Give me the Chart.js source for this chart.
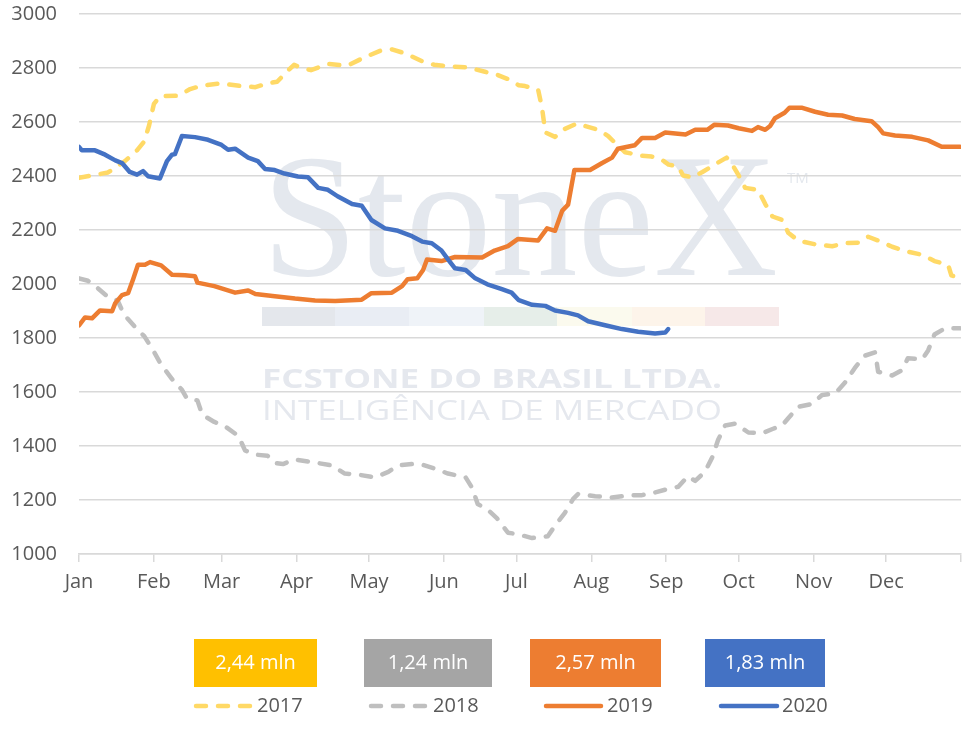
<!DOCTYPE html>
<html>
<head>
<meta charset="utf-8">
<script src="https://cdn.jsdelivr.net/npm/chart.js@4.4.1/dist/chart.umd.min.js"></script>
<style>
html,body{margin:0;padding:0;background:#ffffff;}
#wrap{width:975px;height:744px;position:relative;}
</style>
</head>
<body>
<div id="wrap"><canvas id="c" width="975" height="744"></canvas></div>
<script>
// ---------- DATA ----------
const monthLabels = ['Jan','Feb','Mar','Apr','May','Jun','Jul','Aug','Sep','Oct','Nov','Dec'];
const monthStartDays = [0,31,59,90,120,151,181,212,243,273,304,334,365];
const yMin = 1000, yMax = 3000, yStep = 200;
const seriesNames = ['2017','2018','2019','2020'];
const totalLabels = ['2,44 mln','1,24 mln','2,57 mln','1,83 mln'];

const days2017 = [0,12,19,24,27,29,31,33.5,41,46,51,59,67,73,78,82,86,89,90.5,96,103,111,118,125,129.5,135,142,147,153,161,168,173,177.5,182,184.6,190,191.6,193,197,201,206,211,215,219,222,226,233,237,241,244,248,250,254,258,263,268,270,273,275.7,281,284,287,291,293.5,297.6,304.6,311.7,317,322.4,326.6,330.7,336.5,342,349,354,359.7,361,364.6];
const values2017 = [2393,2413,2455,2495,2528,2587,2667,2696,2697,2722,2735,2743,2733,2729,2743,2749,2786,2812,2806,2792,2815,2808,2839,2865,2869,2854,2825,2812,2806,2802,2786,2775,2759,2736,2733,2720,2653,2561,2545,2574,2594,2581,2571,2548,2521,2488,2475,2472,2462,2442,2435,2402,2395,2415,2442,2468,2448,2402,2356,2349,2296,2250,2237,2190,2161,2147,2140,2151,2153,2175,2161,2138,2122,2108,2085,2071,2032,2021];

const days2018 = [0,3.7,7.7,12,16,18,20,24,27,30.7,34,38.5,42.6,44.7,49,51,56,60,66,68.7,73,78,81,84.4,89,96,104.7,110,115.5,122.5,128,132,137.8,142,147,152.7,160,162.7,165,169,173,177.5,181.7,187.5,194,197,201,204.5,206.5,213.6,220.6,227,233,238,242.5,248,252,255,259,262,264.5,267.4,271.5,277,282.7,287,291,293.5,297.6,303.4,307.5,313,317,321,325,329.5,330.7,336.5,340.6,343,349,351.4,354,358.4,364.6];
const values2018 = [2021,2012,1985,1952,1939,1899,1873,1833,1807,1754,1701,1648,1608,1575,1569,1516,1489,1476,1437,1384,1368,1364,1337,1333,1350,1341,1328,1298,1294,1284,1304,1328,1333,1331,1317,1298,1284,1245,1185,1165,1132,1079,1073,1059,1066,1105,1151,1204,1222,1214,1209,1217,1218,1227,1238,1249,1288,1271,1304,1357,1423,1476,1483,1450,1447,1463,1476,1503,1545,1556,1589,1595,1635,1688,1734,1747,1675,1661,1681,1725,1721,1754,1813,1836,1836];

const days2019 = [0,2.5,5.4,8.7,13.7,15,17.8,20.3,22.4,24.4,27.3,29.4,34,38.5,43.9,48,49,56,64.6,70,73,81,89.4,97.7,106,117,121,129.5,133.7,136,140,142.4,144,150,155.6,166.8,172,177.5,181.7,190,193.7,197,200,202.4,205,211.5,216.5,220.6,223,230,233,238.4,242.6,251,255,260,263,268.6,273,278.5,281,284,286,288,292,294,299,304.6,310,315.8,321,328,330.7,332.8,337.7,344.8,351.4,357,364.6];
const values2019 = [1847,1876,1873,1902,1899,1929,1959,1966,2018,2071,2071,2081,2069,2034,2032,2029,2005,1992,1968,1976,1963,1955,1946,1939,1937,1942,1966,1968,1992,2018,2021,2052,2091,2085,2100,2098,2124,2140,2167,2161,2206,2197,2272,2294,2422,2422,2448,2468,2501,2514,2541,2541,2561,2554,2571,2571,2590,2587,2577,2567,2581,2571,2585,2614,2634,2653,2653,2638,2627,2624,2611,2603,2581,2558,2550,2545,2532,2508,2508];

const days2020 = [0,1.2,6.6,10.8,15,17.8,21,24,26.5,28.6,33.5,36.4,38.5,39.7,42.6,48,53.4,59,61.7,64.6,70,74,77,81,85,90.6,94.8,99,103,107,113,117,121,126.6,132,137.8,142,146,150,152.7,155.6,160,164,169,175,179,182,187.5,193,197,202.4,206.5,210.7,217.7,224.7,231.4,238.4,242.6,243.8];
const values2020 = [2508,2495,2495,2479,2458,2448,2415,2405,2418,2399,2391,2455,2479,2481,2548,2544,2534,2515,2497,2501,2468,2455,2426,2422,2409,2398,2395,2356,2349,2325,2296,2290,2237,2206,2197,2177,2157,2151,2124,2091,2058,2052,2021,1999,1981,1968,1940,1923,1919,1902,1893,1884,1862,1847,1833,1823,1817,1820,1833];

// ---------- STYLE ----------
const lineColors = ['#FFD966','#BFBFBF','#ED7D31','#4472C4'];
const boxColors  = ['#FFC000','#A5A5A5','#ED7D31','#4472C4'];
const dashes = [[10,12],[10,12],[],[]];
const textColor = '#595959';
const gridColor = '#d9d9d9';
const FONT = '"Open Sans", "DejaVu Sans", sans-serif';

function pairs(d, v){ return d.map((x,i)=>({x:x, y:v[i]})); }
const allDays = [days2017, days2018, days2019, days2020];
const allValues = [values2017, values2018, values2019, values2020];

const datasets = seriesNames.map((name,i)=>({
  label: name,
  data: pairs(allDays[i], allValues[i]),
  borderColor: lineColors[i],
  backgroundColor: lineColors[i],
  borderWidth: 4.5,
  borderDash: dashes[i],
  borderCapStyle: 'round',
  borderJoinStyle: 'round',
  pointRadius: 0,
  tension: 0,
  fill: false,
  order: 4 - i
}));

// ---------- PLUGINS ----------
function fitText(c, txt, x, y, width){
  const w = c.measureText(txt).width;
  c.save();
  c.translate(x, y);
  c.scale(width / w, 1);
  c.fillText(txt, 0, 0);
  c.restore();
}

const watermark = {
  id: 'watermark',
  beforeDraw(chart){
    const c = chart.ctx;
    c.save();
    c.fillStyle = '#e4e8ee';
    c.textBaseline = 'alphabetic';
    c.textAlign = 'left';
    c.font = '176px "Liberation Serif", "DejaVu Serif", serif';
    fitText(c, 'StoneX', 262, 275, 516);
    c.font = '15px ' + FONT;
    c.fillText('TM', 787, 183);
    const segs = [[262,335,'#e4e7ec'],[335,409,'#e9edf4'],[409,484,'#eff3f8'],[484,557,'#e6eee9'],[557,632,'#fbfaee'],[632,705,'#fdf4ea'],[705,779,'#f6e8e8']];
    segs.forEach(s=>{ c.fillStyle = s[2]; c.fillRect(s[0], 307, s[1]-s[0], 19); });
    c.fillStyle = '#e5e8ee';
    c.font = 'bold 27px ' + FONT;
    fitText(c, 'FCSTONE DO BRASIL LTDA.', 262, 388, 460);
    c.font = '28px ' + FONT;
    fitText(c, 'INTELIGÊNCIA DE MERCADO', 262, 420, 460);
    c.restore();
  }
};

const bottomLegend = {
  id: 'bottomLegend',
  afterDraw(chart){
    const c = chart.ctx;
    c.save();
    const boxes = [[194,317],[364,492],[530,661],[705,825]];
    const samples = [[196,252],[371,427],[546,601],[721,777]];
    const labelX = [257,433,607,782];
    chart.data.datasets.forEach((ds,i)=>{
      const b = boxes[i];
      c.fillStyle = boxColors[i];
      c.fillRect(b[0], 639, b[1]-b[0], 48);
      c.fillStyle = '#ffffff';
      c.font = '20px ' + FONT;
      c.textAlign = 'center';
      c.textBaseline = 'middle';
      c.fillText(totalLabels[i], (b[0]+b[1])/2, 663);
      const s = samples[i];
      c.strokeStyle = ds.borderColor;
      c.lineWidth = 4.5;
      c.lineCap = 'round';
      c.setLineDash(ds.borderDash || []);
      c.beginPath();
      c.moveTo(s[0], 706);
      c.lineTo(s[1], 706);
      c.stroke();
      c.setLineDash([]);
      c.fillStyle = textColor;
      c.font = '20px ' + FONT;
      c.textAlign = 'left';
      c.fillText(ds.label, labelX[i], 706);
    });
    c.restore();
  }
};

// ---------- CHART ----------
const ctx = document.getElementById('c').getContext('2d');
new Chart(ctx, {
  type: 'line',
  data: { datasets: datasets },
  options: {
    responsive: false,
    animation: false,
    devicePixelRatio: 1,
    layout: { autoPadding: false, padding: { left: 0, right: 14, top: 14, bottom: 0 } },
    plugins: { legend: { display: false }, tooltip: { enabled: false } },
    scales: {
      x: {
        type: 'linear',
        min: monthStartDays[0],
        max: monthStartDays[monthStartDays.length-1],
        afterBuildTicks: s => { s.ticks = monthStartDays.map(v => ({ value: v })); },
        afterFit: s => { s.height = 190; s.paddingLeft = 0; s.paddingRight = 0; },
        grid: { drawOnChartArea: false, drawTicks: true, tickLength: 8, color: gridColor, lineWidth: 1.5 },
        border: { display: true, color: gridColor, width: 1.5 },
        ticks: {
          autoSkip: false, maxRotation: 0, minRotation: 0, padding: 8,
          color: textColor, font: { family: FONT, size: 20 },
          callback: (v, i) => monthLabels[i] || ''
        }
      },
      y: {
        min: yMin, max: yMax,
        afterFit: s => { s.width = 79; s.paddingTop = 0; s.paddingBottom = 0; },
        grid: { color: gridColor, drawTicks: false, lineWidth: 1.5 },
        border: { display: false },
        ticks: { stepSize: yStep, padding: 22, color: textColor, font: { family: FONT, size: 20 },
          callback: v => String(v) }
      }
    }
  },
  plugins: [watermark, bottomLegend]
});
</script>
</body>
</html>
